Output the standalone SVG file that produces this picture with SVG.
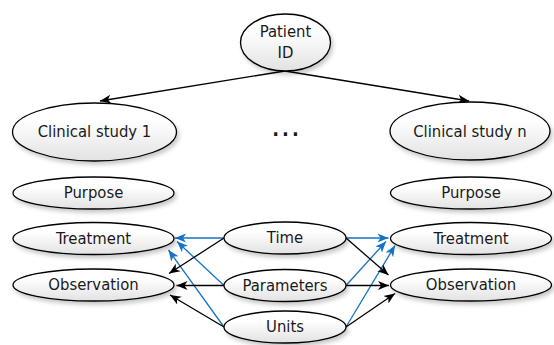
<svg xmlns="http://www.w3.org/2000/svg" width="554" height="345" viewBox="0 0 554 345">
<defs>
  <linearGradient id="g" x1="0" y1="0" x2="0" y2="1">
    <stop offset="0.3" stop-color="#ffffff"/>
    <stop offset="1" stop-color="#e2e2e2"/>
  </linearGradient>
  <filter id="sh" x="-20%" y="-20%" width="150%" height="160%">
    <feDropShadow dx="2" dy="3" stdDeviation="2" flood-color="#000" flood-opacity="0.22"/>
  </filter>
  <marker id="ab" markerUnits="userSpaceOnUse" markerWidth="12" markerHeight="10" refX="11" refY="5" orient="auto">
    <path d="M0,0.5 L11,5 L0,9.5 L3,5 Z" fill="#000"/>
  </marker>
  <marker id="ac" markerUnits="userSpaceOnUse" markerWidth="12" markerHeight="10" refX="11" refY="5" orient="auto">
    <path d="M0,0.5 L11,5 L0,9.5 L3,5 Z" fill="#1572c4"/>
  </marker>
  <style>
    .n ellipse { fill: url(#g); stroke: #000; stroke-width: 1.3; filter: url(#sh); }
    .n text, .t { font-family: "DejaVu Sans Condensed", "DejaVu Sans", "Liberation Sans", sans-serif; font-stretch: condensed; font-size: 16.5px; fill: #1a1a1a; text-anchor: middle; dominant-baseline: central; }
    .k { stroke: #000; stroke-width: 1.3; fill: none; marker-end: url(#ab); }
    .b { stroke: #1572c4; stroke-width: 1.3; fill: none; marker-end: url(#ac); }
  </style>
</defs>

<g id="connectors">
  <line class="k" x1="285" y1="71" x2="100" y2="101"/>
  <line class="k" x1="285" y1="71" x2="469" y2="101"/>
  <!-- left side -->
  <line class="b" x1="224" y1="238" x2="175" y2="238"/>
  <line class="b" x1="224" y1="285.5" x2="177" y2="241.5"/>
  <line class="b" x1="224" y1="327" x2="168.5" y2="250"/>
  <line class="k" x1="224" y1="238" x2="169" y2="273.5"/>
  <line class="k" x1="224" y1="285.5" x2="176.5" y2="285.5"/>
  <line class="k" x1="224" y1="327" x2="170" y2="295"/>
  <!-- right side -->
  <line class="b" x1="346" y1="238" x2="388.5" y2="238"/>
  <line class="b" x1="346" y1="285.5" x2="386" y2="241.5"/>
  <line class="b" x1="346" y1="327" x2="395" y2="245.5"/>
  <line class="k" x1="346" y1="238" x2="388.5" y2="275"/>
  <line class="k" x1="346" y1="285.5" x2="389" y2="285.5"/>
  <line class="k" x1="346" y1="327" x2="395" y2="293.5"/>
</g>

<g id="patient" class="n">
  <ellipse cx="285.5" cy="42.5" rx="45" ry="28.5"/>
  <text x="285.5" y="31">Patient</text>
  <text x="285.5" y="52">ID</text>
</g>
<g id="study1" class="n">
  <ellipse cx="94.5" cy="132" rx="82" ry="29"/>
  <text x="94.5" y="131">Clinical study 1</text>
</g>
<g id="studyn" class="n">
  <ellipse cx="470" cy="131" rx="80" ry="29"/>
  <text x="470" y="131">Clinical study n</text>
</g>
<text id="dots" class="t" x="287" y="129" style="font-size:20px;font-weight:bold;letter-spacing:3px">...</text>

<g id="purpose1" class="n">
  <ellipse cx="93.5" cy="193" rx="80.5" ry="16"/>
  <text x="93.5" y="192.5">Purpose</text>
</g>
<g id="treatment1" class="n">
  <ellipse cx="93.5" cy="238.5" rx="80.5" ry="16"/>
  <text x="93.5" y="238">Treatment</text>
</g>
<g id="observation1" class="n">
  <ellipse cx="93.5" cy="285" rx="80.5" ry="16"/>
  <text x="93.5" y="284.5">Observation</text>
</g>

<g id="purpose2" class="n">
  <ellipse cx="471" cy="193" rx="80.5" ry="16"/>
  <text x="471" y="192.5">Purpose</text>
</g>
<g id="treatment2" class="n">
  <ellipse cx="471" cy="238.5" rx="80.5" ry="16"/>
  <text x="471" y="238">Treatment</text>
</g>
<g id="observation2" class="n">
  <ellipse cx="471" cy="285" rx="80.5" ry="16"/>
  <text x="471" y="284.5">Observation</text>
</g>

<g id="time" class="n">
  <ellipse cx="285" cy="238" rx="61" ry="16"/>
  <text x="285" y="237.5">Time</text>
</g>
<g id="parameters" class="n">
  <ellipse cx="285" cy="285.5" rx="61" ry="16"/>
  <text x="285" y="285">Parameters</text>
</g>
<g id="units" class="n">
  <ellipse cx="285" cy="327" rx="61" ry="16"/>
  <text x="285" y="326.5">Units</text>
</g>
</svg>
